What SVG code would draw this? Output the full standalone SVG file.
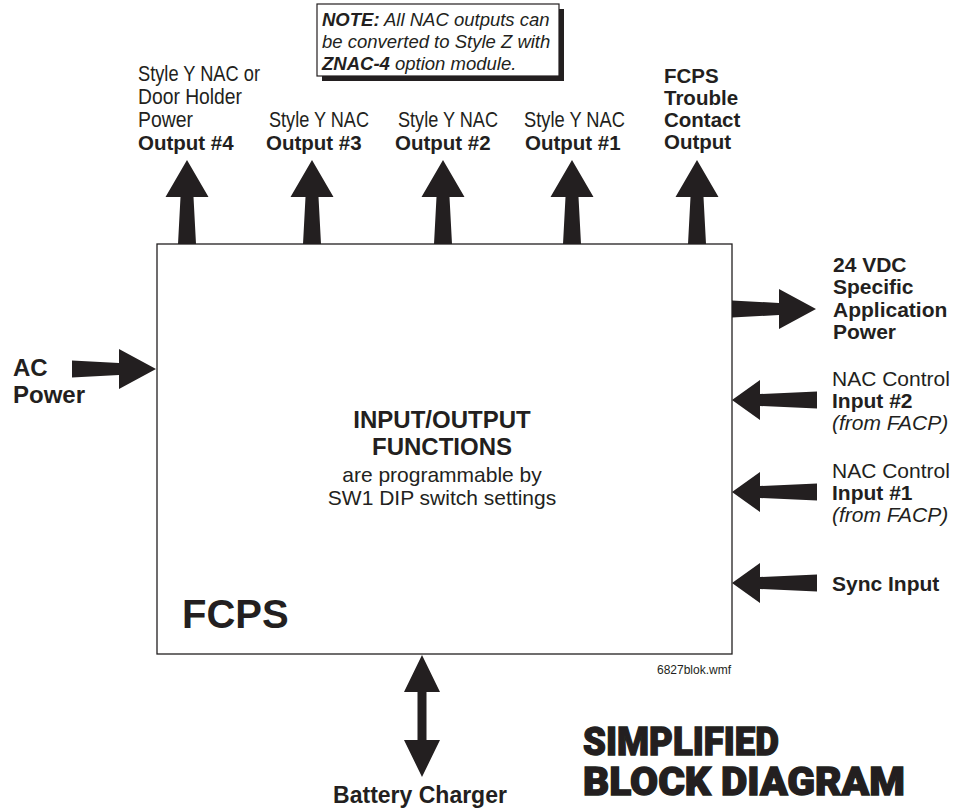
<svg xmlns="http://www.w3.org/2000/svg" width="959" height="809" viewBox="0 0 959 809">
<style>
text{fill:#231f20;font-family:"Liberation Sans",Arial,sans-serif}
.n{font-size:22px}
.b{font-size:20.5px;font-weight:bold}
.r{font-size:21px}
.rb{font-size:21px;font-weight:bold}
.it{font-style:italic}
.arr{fill:#231f20}
.title{font-family:"Roboto","Inter","Liberation Sans",sans-serif;font-weight:900;font-size:38px;stroke:#231f20;stroke-width:1.3}
</style>
<defs>
<path id="up" d="M0,0 L21.5,37 L6.5,37 L9,84 L-9,84 L-6.5,37 L-21.5,37 Z"/>
<path id="right" d="M0,-8.5 L47,-6 L47,-20 L84,0 L47,20 L47,6 L0,8.5 Z"/>
<path id="inL" d="M0,0 L28,-20 L28,-6 L85,-8.5 L85,8.5 L28,6 L28,20 Z"/>
</defs>

<g id="connectors" class="arr">
<use href="#up" x="187" y="160"/>
<use href="#up" x="312" y="160"/>
<use href="#up" x="443" y="160"/>
<use href="#up" x="572" y="160"/>
<use href="#up" x="697" y="160"/>
<use href="#right" x="732" y="309"/>
<use href="#right" x="72" y="369"/>
<use href="#inL" x="732" y="400"/>
<use href="#inL" x="732" y="492"/>
<use href="#inL" x="732" y="583"/>
<path d="M422,655 L440,692 L426.5,692 L426.5,740 L440,740 L422,777 L404,740 L417.5,740 L417.5,692 L404,692 Z"/>
</g>

<g id="fcps">
<rect x="157" y="244" width="575" height="410" fill="#fff" stroke="#231f20" stroke-width="1.3"/>
<text x="442" y="428" text-anchor="middle" style="font-size:24px;font-weight:bold">INPUT/OUTPUT</text>
<text x="442" y="455" text-anchor="middle" style="font-size:24px;font-weight:bold">FUNCTIONS</text>
<text x="442" y="482" text-anchor="middle" style="font-size:21px">are programmable by</text>
<text x="442" y="505" text-anchor="middle" style="font-size:21px">SW1 DIP switch settings</text>
<text x="182" y="628" style="font-size:40px;font-weight:bold">FCPS</text>
</g>

<g id="note">
<rect x="322" y="9" width="242" height="72" fill="#231f20"/>
<rect x="317" y="4" width="242" height="72" fill="#fff" stroke="#231f20" stroke-width="1.2"/>
<text x="322" y="26" class="it" style="font-size:18.5px"><tspan font-weight="bold">NOTE:</tspan> All NAC outputs can</text>
<text x="322" y="48" class="it" style="font-size:18.5px">be converted to Style Z with</text>
<text x="322" y="70" class="it" style="font-size:18.5px"><tspan font-weight="bold">ZNAC-4</tspan> option module.</text>
</g>

<g id="out4">
<text x="138" y="81" class="n" textLength="122" lengthAdjust="spacingAndGlyphs">Style Y NAC or</text>
<text x="138" y="104" class="n" textLength="104" lengthAdjust="spacingAndGlyphs">Door Holder</text>
<text x="138" y="127" class="n" textLength="55" lengthAdjust="spacingAndGlyphs">Power</text>
<text x="138" y="150" class="b">Output #4</text>
</g>
<g id="out3">
<text x="269" y="127" class="n" textLength="100" lengthAdjust="spacingAndGlyphs">Style Y NAC</text>
<text x="266" y="150" class="b">Output #3</text>
</g>
<g id="out2">
<text x="398" y="127" class="n" textLength="100" lengthAdjust="spacingAndGlyphs">Style Y NAC</text>
<text x="395" y="150" class="b">Output #2</text>
</g>
<g id="out1">
<text x="524" y="127" class="n" textLength="101" lengthAdjust="spacingAndGlyphs">Style Y NAC</text>
<text x="525" y="150" class="b">Output #1</text>
</g>
<g id="trouble">
<text x="664" y="83" class="b">FCPS</text>
<text x="664" y="105" class="b">Trouble</text>
<text x="664" y="127" class="b">Contact</text>
<text x="664" y="149" class="b">Output</text>
</g>

<g id="vdc">
<text x="833" y="272" class="rb">24 VDC</text>
<text x="833" y="294" class="rb">Specific</text>
<text x="833" y="317" class="rb">Application</text>
<text x="833" y="339" class="rb">Power</text>
</g>
<g id="nac2">
<text x="832" y="386" class="r">NAC Control</text>
<text x="832" y="408" class="rb">Input #2</text>
<text x="832" y="430" class="r it">(from FACP)</text>
</g>
<g id="nac1">
<text x="832" y="478" class="r">NAC Control</text>
<text x="832" y="500" class="rb">Input #1</text>
<text x="832" y="522" class="r it">(from FACP)</text>
</g>
<g id="sync">
<text x="832" y="591" class="rb">Sync Input</text>
</g>

<g id="ac">
<text x="13" y="376" style="font-size:24px;font-weight:bold">AC</text>
<text x="13" y="403" style="font-size:24px;font-weight:bold">Power</text>
</g>

<g id="battery">
<text x="420" y="803" text-anchor="middle" style="font-size:23px;font-weight:bold">Battery Charger</text>
</g>

<text x="731" y="674" text-anchor="end" style="font-size:12px">6827blok.wmf</text>

<g id="title">
<text x="583" y="755" class="title" textLength="196" lengthAdjust="spacingAndGlyphs">SIMPLIFIED</text>
<text x="583" y="795" class="title" textLength="322" lengthAdjust="spacingAndGlyphs">BLOCK DIAGRAM</text>
</g>
</svg>
